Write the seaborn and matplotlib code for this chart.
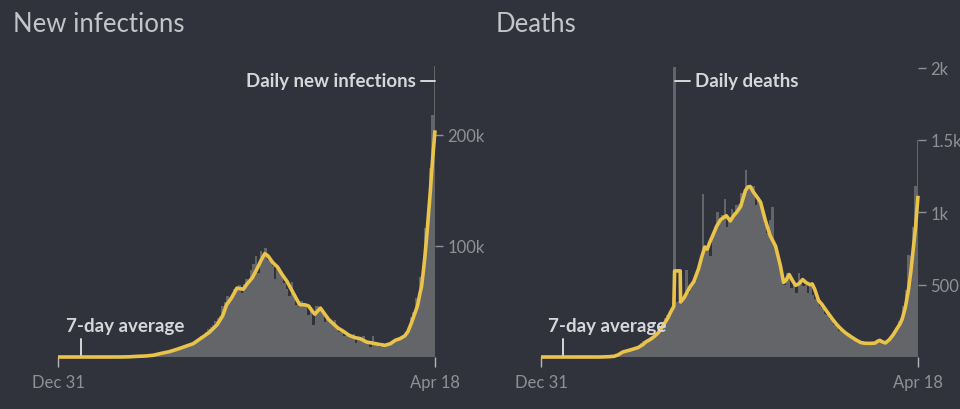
import matplotlib
matplotlib.use("Agg")
import matplotlib.pyplot as plt
import matplotlib.transforms as mtransforms
import numpy as np
import pandas as pd
import seaborn as sns

# ---------------- data (day offsets from Dec 31, 2019) ----------------
x_tick_days = [0, 474]
x_tick_labels = ["Dec 31", "Apr 18"]

bar_days = list(range(0, 475, 3))

# daily new infections (thousands), one bar per 3 days
case_bars = [0] * 26 + [
    0.02, 0.06, 0.1, 0.2, 0.3, 0.5, 0.6, 0.6, 0.8, 0.9,
    1.0, 0.9, 1.3, 1.5, 1.8, 2.4, 2.9, 3.6, 4.0, 4.5,
    4.9, 5.6, 6.1, 6.6, 7.5, 8.2, 9.3, 9.9, 10.9, 11.5,
    12.0, 13.6, 15.4, 16.9, 19.0, 19.1, 22.2, 24.9, 27.1, 28.7,
    32.7, 34.9, 37.1, 45.7, 49.3, 55.0, 52.0, 53.6, 61.5, 60.9,
    64.5, 57.9, 66.0, 69.9, 68.0, 78.7, 83.8, 90.6, 75.8, 95.7,
    92.0, 97.8, 86.9, 88.6, 82.2, 70.6, 81.4, 78.5, 74.4, 66.7,
    61.3, 55.3, 67.7, 54.0, 46.8, 45.2, 50.4, 45.6, 46.2, 38.1,
    44.7, 29.2, 45.5, 45.9, 44.5, 41.8, 31.1, 36.6, 32.1, 30.0,
    33.0, 26.4, 22.1, 24.7, 18.7, 21.8, 20.0, 18.2, 20.3, 12.6,
    16.9, 15.6, 18.9, 13.8, 14.3, 9.1, 18.8, 11.0, 12.8, 9.1,
    12.9, 9.3, 11.6, 12.9, 13.2, 14.2, 16.7, 16.8, 17.4, 18.3,
    22.8, 26.2, 35.9, 40.9, 53.4, 46.9, 72.3, 81.5, 115.7, 131.9,
    169.9, 217.4, 261.5,
]

# 7-day average of new infections (thousands)
case_avg_days = [0, 70, 80, 90, 100, 110, 120, 130, 140, 150, 160, 170, 180,
                 190, 200, 207, 212, 218, 225, 233, 238, 244, 250, 256, 260,
                 264, 270, 276, 282, 288, 294, 300, 304, 310, 315, 320, 323,
                 326, 330, 335, 340, 346, 352, 358, 366, 373, 380, 388, 397,
                 405, 411, 418, 424, 430, 436, 440, 444, 448, 452, 455, 457,
                 459, 461, 464, 468, 471, 474]
case_avg = [0, 0, 0.03, 0.2, 0.6, 0.9, 1.6, 3.3, 4.8, 7.0, 9.5, 12, 17,
            22, 29, 37, 47, 53, 62, 61, 66, 71, 79, 88, 93,
            91, 85, 81, 74, 68, 60, 52, 47, 47, 46, 41, 38.5,
            41, 44, 39, 34, 30, 26, 23.5, 19.5, 17.5, 16.5, 13.5, 12.3,
            11.2, 10.5, 12.0, 15.0, 16.5, 19.0, 23, 30, 38, 46, 57, 63,
            75, 88, 112, 148, 178, 204]

# daily deaths, one bar per 3 days
death_bars = [0] * 24 + [
    1, 1, 1, 2, 3, 5, 8, 12, 20, 30,
    36, 36, 40, 45, 50, 65, 60, 75, 95, 110,
    100, 120, 135, 140, 150, 175, 200, 230, 270, 290,
    320, 340, 2004, 380, 390, 385, 410, 600, 440, 500,
    520, 560, 620, 680, 1125, 760, 780, 700, 840, 900,
    1000, 940, 980, 1090, 900, 960, 1020, 1000, 1050, 1060,
    1130, 1120, 1290, 1180, 1170, 1180, 1050, 1090, 1060, 1000,
    920, 860, 950, 1035, 760, 700, 640, 560, 500, 580,
    560, 480, 510, 440, 580, 520, 490, 500, 440, 510,
    430, 400, 390, 350, 340, 300, 290, 260, 250, 220,
    210, 180, 190, 160, 150, 140, 130, 120, 110, 100,
    100, 95, 90, 95, 100, 90, 100, 110, 120, 100,
    90, 110, 120, 150, 180, 200, 250, 270, 350, 460,
    708, 700, 900, 1185, 1501,
]

# 7-day average of deaths
death_avg_days = [0, 75, 85, 92, 97, 103, 110, 116, 122, 128, 132, 137, 142,
                  147, 151, 155, 159, 163, 167, 168, 175, 175.5, 180, 187,
                  192, 198, 202, 206, 209, 212, 216, 221, 226, 233, 238, 242,
                  246, 251, 257, 260, 263, 267, 271, 276, 282, 288, 295, 301,
                  305, 308, 312, 316, 320, 324, 329, 333, 338, 341, 344, 349,
                  353, 359, 366, 371, 376, 382, 389, 396, 402, 407, 414, 420,
                  423, 426, 429, 433, 438, 443, 448, 451, 454, 458, 462, 465,
                  468, 471, 474]
death_avg = [0, 0, 2, 5, 15, 35, 45, 55, 65, 85, 105, 120, 140,
             165, 195, 230, 265, 310, 350, 595, 595, 380, 410, 482,
             520, 608, 690, 760, 745, 790, 840, 905, 950, 976, 940, 975,
             1000, 1040, 1150, 1175, 1178, 1140, 1110, 1070, 945, 840, 765, 630,
             515, 530, 570, 530, 495, 505, 535, 515, 500, 505, 470, 390,
             365, 318, 265, 230, 200, 170, 143, 118, 100, 95, 94, 96,
             108, 115, 105, 97, 120, 155, 200, 225, 260, 340, 465, 590,
             745, 900, 1114]

case_yticks = [100, 200]
case_yticklabels = ["100k", "200k"]
death_yticks = [500, 1000, 1500, 2000]
death_yticklabels = ["500", "1k", "1.5k", "2k"]

# ---------------- style ----------------
BG = "#30333b"
BAR = "#636569"
LINE = "#e9c34a"
LABEL = "#d6d7d9"
TICK = "#8f9196"
TITLE = "#c3c5c8"

sns.set_theme(style="dark", rc={
    "axes.facecolor": BG,
    "figure.facecolor": BG,
    "savefig.facecolor": BG,
})
plt.rcParams["font.family"] = ["Lato", "DejaVu Sans"]

fig = plt.figure(figsize=(9.6, 4.1), dpi=100)
W, H = 960.0, 410.0
ax1 = fig.add_axes([58 / W, 52 / H, 377 / W, 310 / H])
ax2 = fig.add_axes([541 / W, 52 / H, 377 / W, 310 / H])


def draw(ax, bars, avg_days, avg, ymax, yticks, yticklabels):
    df_b = pd.DataFrame({"day": bar_days, "value": bars})
    sns.barplot(data=df_b, x="day", y="value", native_scale=True, orient="x",
                color=BAR, saturation=1, width=1.0, linewidth=0,
                errorbar=None, ax=ax)
    df_a = pd.DataFrame({"day": avg_days, "value": avg})
    sns.lineplot(data=df_a, x="day", y="value", color=LINE, linewidth=2.6,
                 ax=ax, solid_joinstyle="round", solid_capstyle="butt")
    ax.lines[-1].set_clip_on(False)
    ax.set_xlim(0, 474)
    ax.set_ylim(0, ymax)
    ax.set_xlabel("")
    ax.set_ylabel("")
    for s in ax.spines.values():
        s.set_visible(False)
    ax.grid(False)
    ax.set_facecolor(BG)
    ax.yaxis.tick_right()
    ax.set_yticks(yticks)
    ax.set_yticklabels(yticklabels)
    ax.set_xticks(x_tick_days)
    ax.set_xticklabels(x_tick_labels)
    ax.tick_params(axis="y", which="both", right=True, left=False, length=6,
                   width=1, color=TICK, labelcolor=TICK, labelsize=12, pad=3)
    ax.tick_params(axis="x", which="both", bottom=True, length=7, width=1,
                   color="#b4b6ba", labelcolor=TICK, labelsize=12, pad=5)


draw(ax1, case_bars, case_avg_days, case_avg, 279.0, case_yticks, case_yticklabels)
draw(ax2, death_bars, death_avg_days, death_avg, 2142.0, death_yticks, death_yticklabels)

# annotations
for ax, tx, tick_x in [(ax1, 10, 29), (ax2, 9, 28)]:
    tr = mtransforms.blended_transform_factory(ax.transData, ax.transAxes)
    ax.text(tx, 0.084, "7-day average", transform=tr, ha="left", va="baseline",
            fontsize=13.5, fontweight="bold", color=LABEL, zorder=5)
    ax.plot([tick_x, tick_x], [0.006, 0.058], transform=tr, color=LABEL,
            lw=1.4, clip_on=False, zorder=5)

tr1 = mtransforms.blended_transform_factory(ax1.transData, ax1.transAxes)
ax1.text(450, 0.873, "Daily new infections", transform=tr1, ha="right",
         va="baseline", fontsize=13.5, fontweight="bold", color=LABEL)
ax1.plot([456, 474], [0.890, 0.890], transform=tr1, color=LABEL, lw=1.4,
         clip_on=False)

tr2 = mtransforms.blended_transform_factory(ax2.transData, ax2.transAxes)
ax2.text(194, 0.873, "Daily deaths", transform=tr2, ha="left",
         va="baseline", fontsize=13.5, fontweight="bold", color=LABEL)
ax2.plot([168.5, 187.5], [0.890, 0.890], transform=tr2, color=LABEL, lw=1.4,
         clip_on=False)

fig.text(13 / W, 1 - 32 / H, "New infections", ha="left", va="baseline",
         fontsize=18.5, fontweight="normal", color=TITLE)
fig.text(496 / W, 1 - 32 / H, "Deaths", ha="left", va="baseline",
         fontsize=18.5, fontweight="normal", color=TITLE)

fig.savefig("out.png", dpi=100, facecolor=BG)
